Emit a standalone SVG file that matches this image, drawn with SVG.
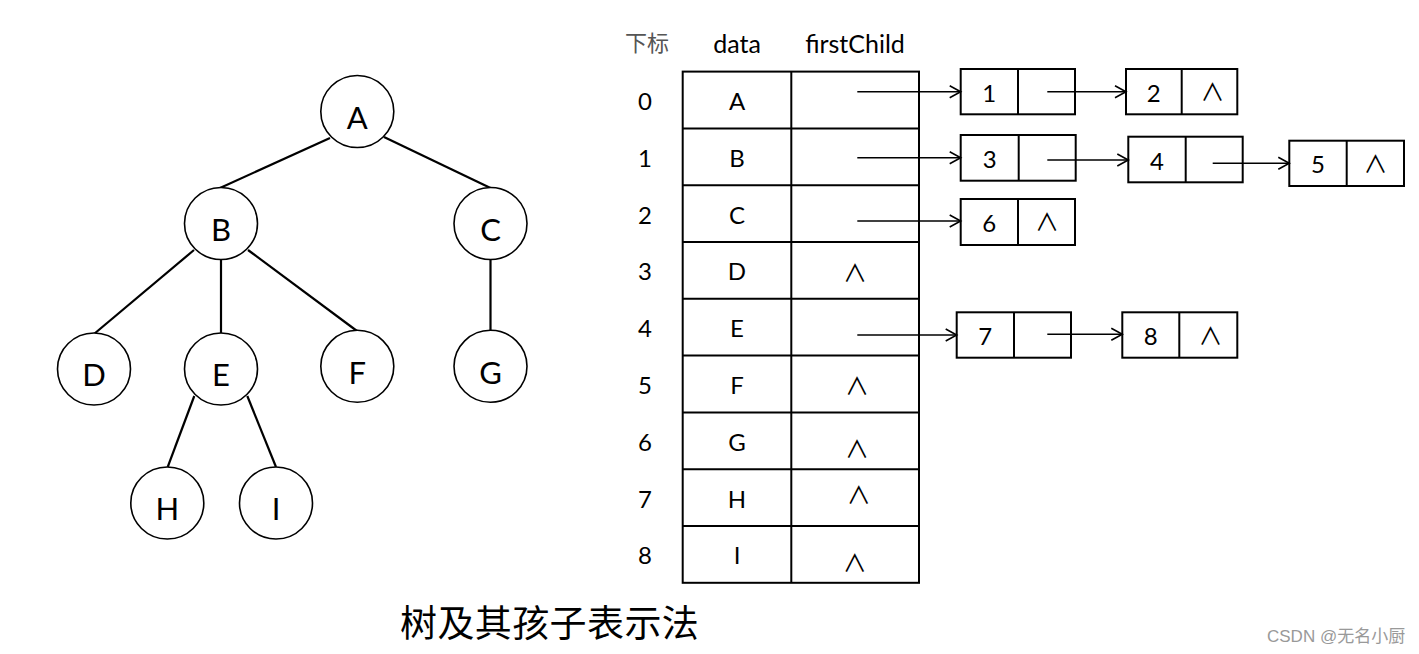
<svg xmlns="http://www.w3.org/2000/svg" width="1419" height="654" viewBox="0 0 1419 654">
<style>
.bg{fill:#ffffff}
.circ{fill:#ffffff;stroke:#000;stroke-width:1.6}
.edge{stroke:#000;stroke-width:2.2;fill:none}
.tl{font-family:Lato,"Open Sans","Liberation Sans",sans-serif;font-size:31px;text-anchor:middle;fill:#000}
.cell{fill:none;stroke:#000;stroke-width:2}
.tx{font-family:Lato,"Open Sans","Liberation Sans",sans-serif;font-size:24px;text-anchor:middle;fill:#000}
.hd{font-family:Lato,"Open Sans","Liberation Sans",sans-serif;font-size:25px;text-anchor:middle;fill:#000}
.cjkhd{font-family:"Noto Sans CJK SC",sans-serif;font-size:22px;text-anchor:middle;fill:#555}
.nul{font-family:"Noto Sans CJK SC",sans-serif;font-size:24px;text-anchor:middle;fill:#000}
.box{fill:#fff;stroke:#000;stroke-width:2}
.arr{stroke:#000;stroke-width:1.6;fill:none;marker-end:url(#ah)}
.cap{font-family:"Noto Sans CJK SC",serif;font-size:37px;letter-spacing:0.4px;fill:#000}
.wm{font-family:"Liberation Sans","Noto Sans CJK SC",sans-serif;font-size:17px;fill:#999}
</style>
<defs>
<marker id="ah" markerUnits="userSpaceOnUse" markerWidth="14" markerHeight="14" refX="11" refY="6" orient="auto" overflow="visible">
<path d="M0,0 L11,6 L0,12" fill="none" stroke="#000" stroke-width="1.6"/>
</marker>
</defs>
<rect class="bg" x="0" y="0" width="1419" height="654"/>

<g id="tree-edges">
<line class="edge" x1="330" y1="138" x2="220" y2="188"/>
<line class="edge" x1="384" y1="137" x2="490.5" y2="188"/>
<line class="edge" x1="194" y1="250" x2="94" y2="334"/>
<line class="edge" x1="221" y1="259" x2="221" y2="333"/>
<line class="edge" x1="248" y1="250" x2="357" y2="331"/>
<line class="edge" x1="490.5" y1="259" x2="490.5" y2="331"/>
<line class="edge" x1="194.3" y1="396" x2="167.7" y2="467"/>
<line class="edge" x1="247.3" y1="396" x2="276" y2="467"/>
</g>

<g id="node-A"><ellipse class="circ" cx="357.3" cy="111.5" rx="36.5" ry="36"/><text class="tl" x="357.3" y="128.5">A</text></g>
<g id="node-B"><ellipse class="circ" cx="221" cy="223.5" rx="36.5" ry="36"/><text class="tl" x="221" y="241">B</text></g>
<g id="node-C"><ellipse class="circ" cx="490.5" cy="223.5" rx="36.5" ry="36"/><text class="tl" x="490.5" y="241">C</text></g>
<g id="node-D"><ellipse class="circ" cx="94" cy="369" rx="36.5" ry="36"/><text class="tl" x="94" y="386">D</text></g>
<g id="node-E"><ellipse class="circ" cx="221" cy="369" rx="36.5" ry="36"/><text class="tl" x="221" y="386">E</text></g>
<g id="node-F"><ellipse class="circ" cx="357.3" cy="366.3" rx="36.5" ry="36"/><text class="tl" x="357.3" y="384">F</text></g>
<g id="node-G"><ellipse class="circ" cx="490.5" cy="366.3" rx="36.5" ry="36"/><text class="tl" x="490.5" y="384">G</text></g>
<g id="node-H"><ellipse class="circ" cx="167.3" cy="503" rx="36.5" ry="36"/><text class="tl" x="167.3" y="520">H</text></g>
<g id="node-I"><ellipse class="circ" cx="276" cy="503" rx="36.5" ry="36"/><text class="tl" x="276" y="520">I</text></g>

<g id="table-header">
<text class="cjkhd" x="647" y="51">下标</text>
<text class="hd" x="737" y="53">data</text>
<text class="hd" x="855" y="53">firstChild</text>
</g>

<g id="table">
<rect class="cell" x="682.7" y="71.6" width="236.3" height="511.2"/>
<line class="cell" x1="791.3" y1="71.6" x2="791.3" y2="582.8"/>
<line class="cell" x1="682.7" y1="128.4" x2="919" y2="128.4"/>
<line class="cell" x1="682.7" y1="185.2" x2="919" y2="185.2"/>
<line class="cell" x1="682.7" y1="242" x2="919" y2="242"/>
<line class="cell" x1="682.7" y1="298.8" x2="919" y2="298.8"/>
<line class="cell" x1="682.7" y1="355.6" x2="919" y2="355.6"/>
<line class="cell" x1="682.7" y1="412.4" x2="919" y2="412.4"/>
<line class="cell" x1="682.7" y1="469.2" x2="919" y2="469.2"/>
<line class="cell" x1="682.7" y1="526" x2="919" y2="526"/>
<text class="tx" x="645" y="110">0</text><text class="tx" x="737" y="110">A</text>
<text class="tx" x="645" y="166.8">1</text><text class="tx" x="737" y="166.8">B</text>
<text class="tx" x="645" y="223.6">2</text><text class="tx" x="737" y="223.6">C</text>
<text class="tx" x="645" y="280.4">3</text><text class="tx" x="737" y="280.4">D</text>
<text class="tx" x="645" y="337.2">4</text><text class="tx" x="737" y="337.2">E</text>
<text class="tx" x="645" y="394">5</text><text class="tx" x="737" y="394">F</text>
<text class="tx" x="645" y="450.8">6</text><text class="tx" x="737" y="450.8">G</text>
<text class="tx" x="645" y="507.6">7</text><text class="tx" x="737" y="507.6">H</text>
<text class="tx" x="645" y="564.4">8</text><text class="tx" x="737" y="564.4">I</text>
<text class="nul" x="855" y="281.5">∧</text>
<text class="nul" x="857" y="394.5">∧</text>
<text class="nul" x="857" y="457.5">∧</text>
<text class="nul" x="858.7" y="503.5">∧</text>
<text class="nul" x="854.7" y="571.5">∧</text>
</g>

<g id="list-1"><rect class="box" x="960.7" y="69" width="114.3" height="45.3"/><line class="box" x1="1018" y1="69" x2="1018" y2="114.3"/><text class="tx" x="989.3" y="101.7">1</text></g>
<g id="list-2"><rect class="box" x="1126" y="69" width="111.3" height="45.3"/><line class="box" x1="1181.7" y1="69" x2="1181.7" y2="114.3"/><text class="tx" x="1153.8" y="101.7">2</text><text class="nul" x="1212.5" y="101">∧</text></g>
<g id="list-3"><rect class="box" x="960.7" y="135" width="115" height="45.7"/><line class="box" x1="1018.7" y1="135" x2="1018.7" y2="180.7"/><text class="tx" x="989.7" y="168">3</text></g>
<g id="list-4"><rect class="box" x="1128.3" y="136.7" width="114.4" height="45.6"/><line class="box" x1="1185.7" y1="136.7" x2="1185.7" y2="182.3"/><text class="tx" x="1157" y="169.5">4</text></g>
<g id="list-5"><rect class="box" x="1289.3" y="140.7" width="114.7" height="45.3"/><line class="box" x1="1346.7" y1="140.7" x2="1346.7" y2="186"/><text class="tx" x="1318" y="173.3">5</text><text class="nul" x="1375.5" y="173">∧</text></g>
<g id="list-6"><rect class="box" x="960.7" y="199" width="114.3" height="46"/><line class="box" x1="1018" y1="199" x2="1018" y2="245"/><text class="tx" x="989.3" y="232">6</text><text class="nul" x="1047" y="230.5">∧</text></g>
<g id="list-7"><rect class="box" x="956.7" y="312.3" width="114.3" height="45.4"/><line class="box" x1="1014" y1="312.3" x2="1014" y2="357.7"/><text class="tx" x="985.3" y="345">7</text></g>
<g id="list-8"><rect class="box" x="1122.3" y="312.3" width="115" height="45.4"/><line class="box" x1="1179.3" y1="312.3" x2="1179.3" y2="357.7"/><text class="tx" x="1150.8" y="345">8</text><text class="nul" x="1210.5" y="344.5">∧</text></g>

<g id="connectors">
<line class="arr" x1="857.3" y1="91.7" x2="960.7" y2="91.7"/>
<line class="arr" x1="857.3" y1="157.7" x2="960.7" y2="157.7"/>
<line class="arr" x1="857.3" y1="221" x2="960.7" y2="221"/>
<line class="arr" x1="857.3" y1="335" x2="956.7" y2="335"/>
<line class="arr" x1="1047.3" y1="91.7" x2="1126" y2="91.7"/>
<line class="arr" x1="1047.3" y1="160" x2="1128.3" y2="160"/>
<line class="arr" x1="1212.7" y1="163.3" x2="1289.3" y2="163.3"/>
<line class="arr" x1="1047.3" y1="334.3" x2="1122.3" y2="334.3"/>
</g>

<text class="cap" x="400" y="637">树及其孩子表示法</text>
<text class="wm" x="1267" y="642">CSDN @无名小厨</text>
</svg>
